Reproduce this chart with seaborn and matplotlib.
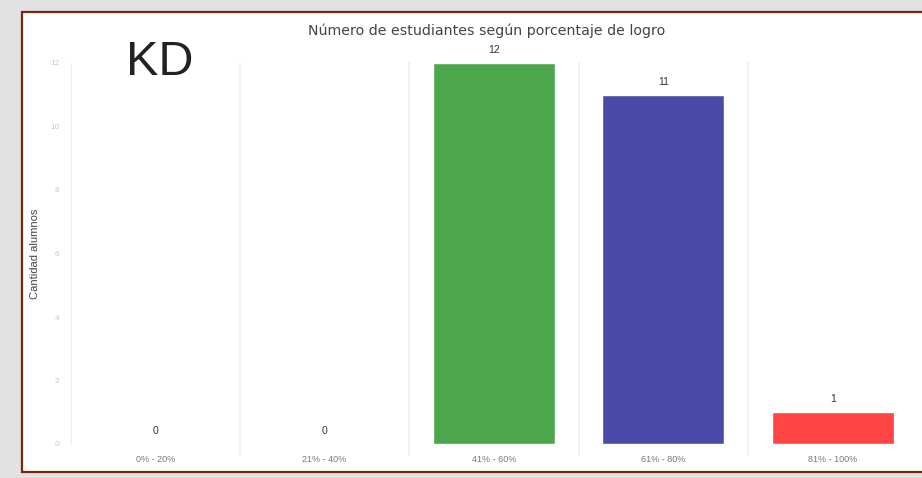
import matplotlib
matplotlib.use("Agg")
import matplotlib.pyplot as plt
import seaborn as sns
import pandas as pd
from matplotlib.patches import Rectangle

# Data
rangos = ["0% - 20%", "21% - 40%", "41% - 60%", "61% - 80%", "81% - 100%"]
cantidad = [0, 0, 12, 11, 1]
colores = ["#4ca64c", "#4ca64c", "#4ca64c", "#4a4aa8", "#ff4444"]
yticks = [0, 2, 4, 6, 8, 10, 12]

df = pd.DataFrame({"rango": rangos, "cantidad": cantidad})

sns.set_style("white")
plt.rcParams["font.family"] = ["Liberation Sans", "DejaVu Sans"]

fig = plt.figure(figsize=(9.22, 4.78), dpi=100, facecolor="#e2e2e2")

# White slide panel with dark red border (behind the axes)
panel = Rectangle((22 / 922, 6 / 478), 1.0, 460 / 478, transform=fig.transFigure,
                  facecolor="white", edgecolor="#7a2410", linewidth=1.6, zorder=-5)
fig.patches.append(panel)

ax = fig.add_axes([70.5 / 922, 34 / 478, 847 / 922, 381 / 478])
ax.set_facecolor("none")
ax.set_zorder(2)

sns.barplot(data=df, x="rango", y="cantidad", hue="rango", palette=colores,
            legend=False, width=0.72, saturation=1, ax=ax)

ax.set_ylim(0, 12)
ax.set_xlim(-0.5, 4.5)
ax.set_yticks(yticks)
ax.tick_params(axis="y", labelsize=6, colors="#c8c8c8", length=0, pad=8)
ax.tick_params(axis="x", labelsize=6.5, colors="#777777", length=0, pad=8)
ax.set_xlabel("")
ax.set_ylabel("Cantidad alumnos", fontsize=8, color="#444444", labelpad=7)

for s in ["top", "right", "bottom"]:
    ax.spines[s].set_visible(False)
ax.spines["left"].set_color("#eeeeee")

# light separators between categories
for xpos in [0.5, 1.5, 2.5, 3.5]:
    ax.axvline(xpos, ymin=-0.03, ymax=1.0, color="#eeeeee", linewidth=1.2, zorder=0, clip_on=False)

# value labels
for i, v in enumerate(cantidad):
    ax.text(i, v + 0.25, str(v), ha="center", va="bottom", fontsize=7.5,
            color="#333333", clip_on=False)

fig.text(0.528, 0.936, "Número de estudiantes según porcentaje de logro",
         ha="center", va="center", fontsize=10.2, color="#444444", family="DejaVu Sans")
fig.text(0.137, 0.869, "KD", ha="left", va="center", fontsize=35, color="#222222")

fig.savefig("out.png", dpi=100, facecolor=fig.get_facecolor())
